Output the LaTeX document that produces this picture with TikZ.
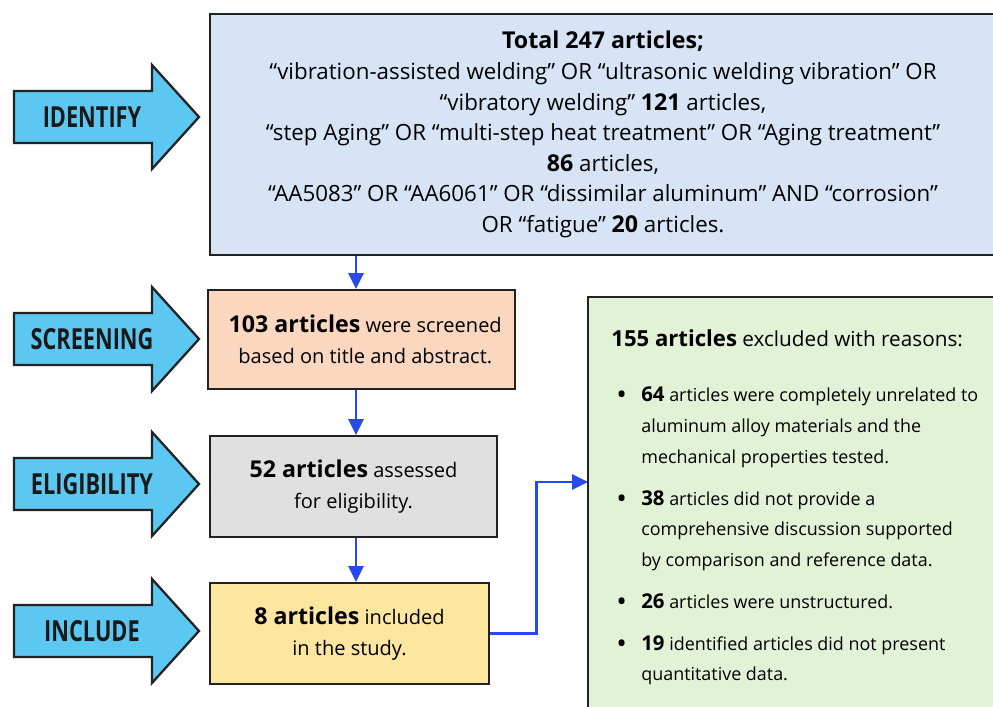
\documentclass[tikz,border=0pt]{standalone}
\usepackage{fontspec}
\setmainfont{Open Sans}
\newfontfamily\phasefont{Open Sans}[FakeStretch=0.75]
\usetikzlibrary{arrows.meta}

\definecolor{phasecyan}{RGB}{92,200,242}
\definecolor{identfill}{RGB}{214,228,245}
\definecolor{screenfill}{RGB}{250,215,190}
\definecolor{eligfill}{RGB}{224,224,224}
\definecolor{inclfill}{RGB}{252,230,160}
\definecolor{exclfill}{RGB}{226,242,214}
\definecolor{flowblue}{RGB}{40,72,240}
\definecolor{edgegray}{RGB}{34,34,34}

\newcommand\bignum[1]{{\fontsize{13.2}{17.4}\selectfont\bfseries #1}}
\newcommand\itemnum[1]{{\fontsize{11.6}{17.5}\selectfont\bfseries #1}}
\newcommand\dotitem{\makebox[0.6cm][l]{\hspace{0.1cm}\raisebox{-0.06cm}{\fontsize{16}{17}\selectfont\textbullet}}}

\tikzset{
  stagebox/.style={draw=edgegray, line width=1.1pt, align=center, inner sep=0pt},
  phase/.style={draw=edgegray, line width=1.3pt, fill=phasecyan},
  phaselabel/.style={font=\phasefont\fontsize{16.5}{18}\selectfont\bfseries, text=black!90},
  flow/.style={draw=flowblue, line width=1.7pt, -{Triangle[length=0.32cm,width=0.3cm]}}
}

\begin{document}
\begin{tikzpicture}[x=0.02cm, y=-0.02cm]
\useasboundingbox[fill=white] (0,0) rectangle (993,706);

% phase arrows
\foreach \yc/\nm/\lab in {117/identify/IDENTIFY, 339/screening/SCREENING, 484/eligibility/ELIGIBILITY, 631/include/INCLUDE}{
  \draw[phase] (14,\yc-26) -- (152,\yc-26) -- (152,\yc-52) -- (199,\yc) -- (152,\yc+52) -- (152,\yc+26) -- (14,\yc+26) -- cycle;
  \node[phaselabel] (\nm) at (92,\yc) {\lab};
}

% stages
\node[stagebox, fill=identfill, minimum width=15.72cm, minimum height=4.82cm,
      font=\fontsize{12.7}{17.4}\selectfont] (ident) at (603,134.5) {
  {\fontsize{13.2}{17.4}\selectfont\bfseries Total 247 articles;}\\
  “vibration-assisted welding” OR “ultrasonic welding vibration” OR\\
  “vibratory welding” \bignum{121} articles,\\
  “step Aging” OR “multi-step heat treatment” OR “Aging treatment”\\
  \bignum{86} articles,\\
  “AA5083” OR “AA6061” OR “dissimilar aluminum” AND “corrosion”\\
  OR “fatigue” \bignum{20} articles.};

\node[stagebox, fill=screenfill, minimum width=6.14cm, minimum height=1.98cm,
      font=\fontsize{11.4}{17.6}\selectfont] (screen) at (361.5,339.5) {
  \hspace*{0.15cm}\bignum{103 articles} were screened\\
  \hspace*{0.15cm}based on title and abstract.};

\node[stagebox, fill=eligfill, minimum width=5.74cm, minimum height=2.02cm,
      font=\fontsize{11.4}{17.6}\selectfont] (elig) at (353.5,486.5) {
  \bignum{52 articles} assessed\\
  for eligibility.};

\node[stagebox, fill=inclfill, minimum width=5.58cm, minimum height=2.02cm,
      font=\fontsize{11.4}{17.6}\selectfont] (incl) at (349.5,633.5) {
  \bignum{8 articles} included\\
  in the study.};

% excluded
\node[stagebox, fill=exclfill, minimum width=8.16cm, minimum height=8.3cm] (excl) at (792,504.5) {};
\node[anchor=north west, align=left, inner sep=0pt,
      font=\fontsize{10.2}{17.5}\selectfont] (exclText) at (611,329) {
  {\fontsize{11.8}{17.5}\selectfont{\fontsize{12.6}{17.5}\selectfont\bfseries 155 articles} excluded with reasons:}\\[0.5cm]
  \dotitem\itemnum{64} articles were completely unrelated to\\
  \hspace*{0.6cm}aluminum alloy materials and the\\
  \hspace*{0.6cm}mechanical properties tested.\\[0.22cm]
  \dotitem\itemnum{38} articles did not provide a\\
  \hspace*{0.6cm}comprehensive discussion supported\\
  \hspace*{0.6cm}by comparison and reference data.\\[0.22cm]
  \dotitem\itemnum{26} articles were unstructured.\\[0.22cm]
  \dotitem\itemnum{19} identified articles did not present\\
  \hspace*{0.6cm}quantitative data.};

% connectors
\coordinate (spine) at (356,0);
\coordinate (exclIn) at (588,482);
\draw[flow] (ident.south -| spine) -- (screen.north -| spine);
\draw[flow] (screen.south -| spine) -- (elig.north -| spine);
\draw[flow] (elig.south -| spine) -- (incl.north -| spine);
\draw[flow] (incl.east) -- ++(47,0) |- (exclIn);
\end{tikzpicture}
\end{document}
